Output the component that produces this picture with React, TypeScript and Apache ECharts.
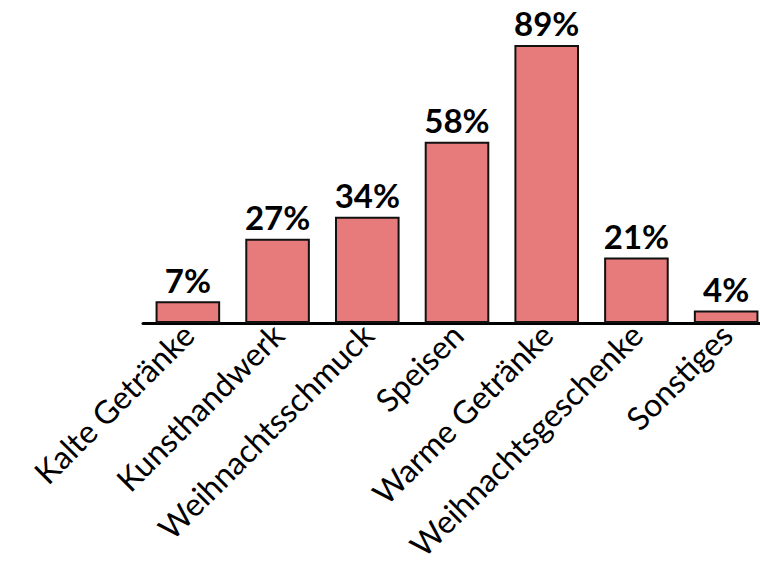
import React, { useEffect, useRef } from "react";
import * as echarts from "echarts";

const categories = [
  "Kalte Getränke",
  "Kunsthandwerk",
  "Weihnachtsschmuck",
  "Speisen",
  "Warme Getränke",
  "Weihnachtsgeschenke",
  "Sonstiges",
];
const values = [7, 27, 34, 58, 89, 21, 4];

const FONT = "Lato";

export default function App() {
  const ref = useRef<HTMLDivElement>(null);
  useEffect(() => {
    if (!ref.current) return;
    const chart = echarts.init(ref.current, undefined, { renderer: "svg" });
    chart.setOption({
      animation: false,
      backgroundColor: "#ffffff",
      grid: {
        left: 143,
        width: 628,
        top: 10.5,
        bottom: 242,
        containLabel: false,
        outerBoundsMode: "none",
      },
      xAxis: {
        type: "category",
        data: categories,
        axisLine: { show: true, lineStyle: { color: "#000", width: 3 } },
        axisTick: { show: false },
        axisLabel: {
          rotate: 45,
          interval: 0,
          margin: 6,
          color: "#000",
          fontFamily: FONT,
          fontSize: 32,
        },
      },
      yAxis: {
        type: "value",
        min: 0,
        max: 100,
        show: false,
        splitLine: { show: false },
      },
      series: [
        {
          type: "bar",
          data: values,
          barCategoryGap: "28%",
          itemStyle: { color: "#E77A7A", borderColor: "#111", borderWidth: 2 },
          label: {
            show: true,
            position: "top",
            distance: 5,
            formatter: "{c}%",
            color: "#000",
            fontFamily: FONT,
            fontWeight: "bold",
            fontSize: 33,
          },
        },
      ],
    });
    return () => chart.dispose();
  }, []);
  return (
    <div
      ref={ref}
      style={{ width: 760, height: 565, position: "absolute", left: 0, top: 0 }}
    />
  );
}
